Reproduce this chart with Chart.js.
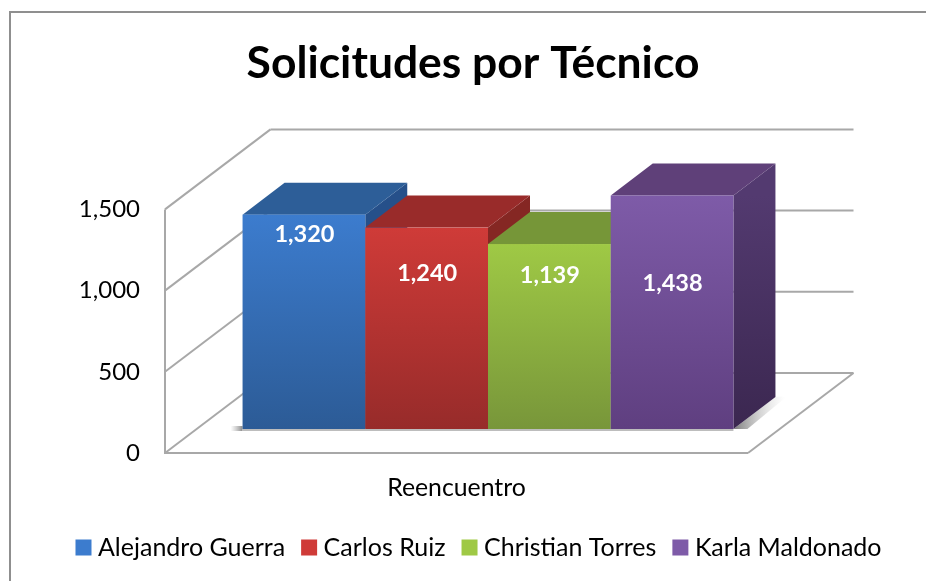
<!DOCTYPE html>
<html>
<head>
<meta charset="utf-8">
<title>Solicitudes por Técnico</title>
<script src="https://cdn.jsdelivr.net/npm/chart.js@4"></script>
<style>
  html, body { margin: 0; padding: 0; background: #fff; }
  canvas { display: block; }
</style>
</head>
<body>
<canvas id="chart" width="926" height="581"></canvas>
<script>
const categories = ['Reencuentro'];
const technicians = ['Alejandro Guerra', 'Carlos Ruiz', 'Christian Torres', 'Karla Maldonado'];
const requests = [1320, 1240, 1139, 1438];
const yTicks = [0, 500, 1000, 1500];

// front gradient top/bottom, top face, side face top/bottom
const frontTop = ['#3C7CCE', '#CF3B38', '#9FC945', '#7E5BA8'];
const frontBottom = ['#2C5B96', '#972B2A', '#78963A', '#5F3F80'];
const topFace = ['#2D5E98', '#992B2A', '#769638', '#5F4079'];
const sideTop = ['#26508A', '#852723', '#648030', '#533A70'];
const sideBottom = ['#26508A', '#852723', '#648030', '#3B2750'];
// the labels were placed by hand in the original, distance below the bar top
const labelDrop = [20, 46, 31, 88];

const wallDepth = { x: 105.5, y: -80 };
const barDepth = { x: 42, y: -32 };
const barShift = { x: 31.5, y: -24 };
const lineColor = '#A8A8A8';

Chart.defaults.font.family = 'Lato';
Chart.defaults.color = '#000';

function line(ctx, x1, y1, x2, y2) {
  ctx.beginPath();
  ctx.moveTo(x1, y1);
  ctx.lineTo(x2, y2);
  ctx.stroke();
}

function poly(ctx, points, fill) {
  ctx.beginPath();
  points.forEach((p, i) => (i ? ctx.lineTo(p[0], p[1]) : ctx.moveTo(p[0], p[1])));
  ctx.closePath();
  ctx.fillStyle = fill;
  ctx.fill();
}

function vertical(ctx, y1, y2, c1, c2) {
  const g = ctx.createLinearGradient(0, y1, 0, y2);
  g.addColorStop(0, c1);
  g.addColorStop(1, c2);
  return g;
}

const box3d = {
  id: 'box3d',
  afterLayout(chart) {
    // title and legend sit centred on the frame, not on the plot
    chart.titleBlock.left = 20;
    chart.titleBlock.right = 926;
    chart.legend.left = 33.5;
    chart.legend.right = 929.5;
    chart.legend.top = 513;
    const ctx = chart.ctx;
    chart.legend.legendItems.forEach((item, i) => {
      item.fillStyle = vertical(ctx, 539, 555, frontTop[i], frontBottom[i]);
    });
  },
  beforeDraw(chart) {
    const ctx = chart.ctx;
    ctx.save();
    ctx.strokeStyle = '#8F8F8F';
    ctx.lineWidth = 2;
    ctx.strokeRect(10, 12, 1000, 1000);
    ctx.restore();
  },
  beforeDatasetsDraw(chart) {
    const { ctx, chartArea: area, scales } = chart;
    const y = scales.y;
    ctx.save();

    // walls and floor
    ctx.strokeStyle = lineColor;
    ctx.lineWidth = 2;
    yTicks.forEach(v => {
      const py = y.getPixelForValue(v);
      line(ctx, area.left, py, area.left + wallDepth.x, py + wallDepth.y);
      line(ctx, area.left + wallDepth.x, py + wallDepth.y, area.right + wallDepth.x, py + wallDepth.y);
    });
    line(ctx, area.left, area.top, area.left, area.bottom);
    line(ctx, area.left - 1, area.bottom, area.right, area.bottom);
    line(ctx, area.right, area.bottom, area.right + wallDepth.x, area.bottom + wallDepth.y);

    const bars = chart.data.datasets.map((d, i) => chart.getDatasetMeta(i).data[0]);
    const first = bars[0];
    const last = bars[bars.length - 1];
    const base = first.base + barShift.y;
    const left = first.x - first.width / 2 + barShift.x;
    const right = last.x + last.width / 2 + barShift.x;

    // floor shadow
    const s = ctx.createLinearGradient(right, 0, right + 52, 0);
    s.addColorStop(0, '#7A7A7A');
    s.addColorStop(1, 'rgba(210,210,210,0)');
    poly(ctx, [[right, base], [right + barDepth.x, base + barDepth.y],
      [right + barDepth.x + 12, base + barDepth.y - 1], [right + 14, base]], s);
    const l = ctx.createLinearGradient(left - 12, 0, left, 0);
    l.addColorStop(0, 'rgba(170,170,170,0)');
    l.addColorStop(1, '#8A8A8A');
    ctx.fillStyle = l;
    ctx.fillRect(left - 12, base - 3, 12, 5);
    ctx.fillStyle = '#BDBDBD';
    ctx.fillRect(left, base, right - left, 2);

    // boxes, first series at the back of the overlap
    bars.forEach((bar, i) => {
      const x1 = bar.x - bar.width / 2 + barShift.x;
      const x2 = bar.x + bar.width / 2 + barShift.x;
      const top = bar.y + barShift.y;
      const bot = bar.base + barShift.y;
      poly(ctx, [[x2, top], [x2 + barDepth.x, top + barDepth.y],
        [x2 + barDepth.x, bot + barDepth.y], [x2, bot]],
        vertical(ctx, top, bot, sideTop[i], sideBottom[i]));
      poly(ctx, [[x1, top], [x1 + barDepth.x, top + barDepth.y],
        [x2 + barDepth.x, top + barDepth.y], [x2, top]], topFace[i]);
      ctx.fillStyle = vertical(ctx, top, bot, frontTop[i], frontBottom[i]);
      ctx.fillRect(x1, top, x2 - x1, bot - top);
    });

    // value labels
    ctx.fillStyle = '#fff';
    ctx.font = 'bold 23.5px Lato';
    ctx.textAlign = 'center';
    ctx.textBaseline = 'middle';
    bars.forEach((bar, i) => {
      ctx.fillText(requests[i].toLocaleString('en-US'), bar.x + barShift.x + 0.5, bar.y + barShift.y + labelDrop[i]);
    });
    ctx.restore();
    return false;
  }
};

new Chart(document.getElementById('chart'), {
  type: 'bar',
  data: {
    labels: categories,
    datasets: technicians.map((name, i) => ({
      label: name,
      data: [requests[i]],
      backgroundColor: frontTop[i],
      yAxisID: 'y'
    }))
  },
  plugins: [box3d],
  options: {
    responsive: false,
    animation: false,
    datasets: { bar: { categoryPercentage: 0.842, barPercentage: 1 } },
    plugins: {
      title: {
        display: true,
        text: 'Solicitudes por Técnico',
        font: { size: 44.4, weight: 'bold', lineHeight: 1 },
        padding: { top: 41, bottom: 124 }
      },
      legend: {
        position: 'bottom',
        labels: {
          usePointStyle: true,
          pointStyle: 'rect',
          boxWidth: 4,
          boxHeight: 16,
          font: { size: 25 },
          padding: 22
        }
      },
      tooltip: { enabled: false }
    },
    scales: {
      x: {
        grid: { display: false, drawTicks: false },
        border: { display: false },
        ticks: { padding: 20, font: { size: 24.8 } },
        afterFit(scale) { scale.height = 128 - scale.chart.legend.height; }
      },
      y: {
        min: 0,
        max: 1500,
        grid: { display: false, drawTicks: false },
        border: { display: false },
        ticks: {
          stepSize: 500,
          padding: 25,
          font: { size: 24 },
          callback: v => v.toLocaleString('en-US')
        },
        afterFit(scale) { scale.width = 165; }
      },
      // empty axis, only keeps the plot clear of the back wall on the right
      gutter: {
        position: 'right',
        min: 0,
        max: 1500,
        grid: { display: false, drawTicks: false },
        border: { display: false },
        ticks: { display: false },
        afterFit(scale) { scale.width = 178; }
      }
    }
  }
});
</script>
</body>
</html>
